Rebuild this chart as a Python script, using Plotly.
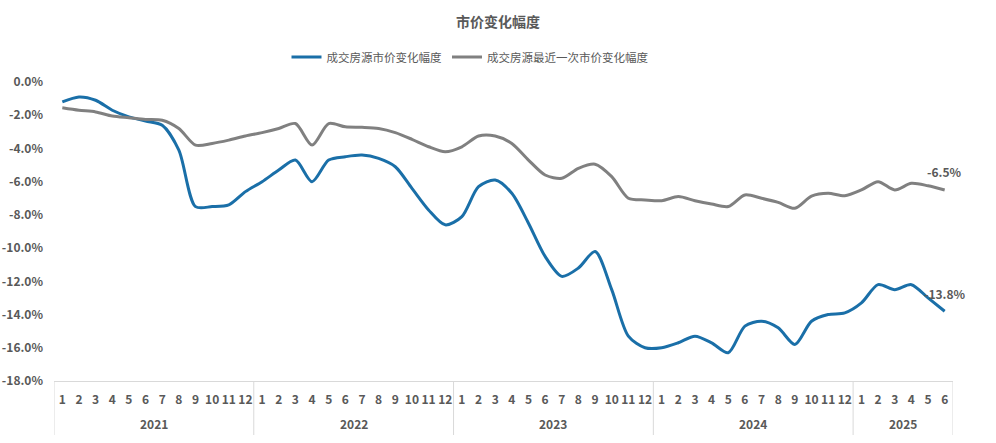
import plotly.graph_objects as go

years = ["2021"] * 12 + ["2022"] * 12 + ["2023"] * 12 + ["2024"] * 12 + ["2025"] * 6
months = [str(m) for m in range(1, 13)] * 4 + [str(m) for m in range(1, 7)]

series_a_name = "成交房源市价变化幅度"
series_a = [-1.2, -0.9, -1.1, -1.7, -2.1, -2.35, -2.6, -4.1, -7.5, -7.5, -7.4, -6.6,
            -6.0, -5.3, -4.7, -6.0, -4.7, -4.5, -4.4, -4.6, -5.1, -6.4, -7.7, -8.6,
            -8.1, -6.3, -5.9, -6.7, -8.5, -10.5, -11.7, -11.2, -10.2, -12.5, -15.3, -16.0,
            -16.0, -15.7, -15.3, -15.7, -16.3, -14.7, -14.4, -14.8, -15.8, -14.4, -14.0, -13.9,
            -13.3, -12.2, -12.5, -12.2, -13.0, -13.8]

series_b_name = "成交房源最近一次市价变化幅度"
series_b = [-1.55, -1.7, -1.8, -2.05, -2.15, -2.25, -2.3, -2.8, -3.8, -3.7, -3.5, -3.25,
            -3.05, -2.8, -2.5, -3.8, -2.5, -2.7, -2.73, -2.8, -3.05, -3.45, -3.9, -4.2,
            -3.9, -3.25, -3.25, -3.7, -4.7, -5.6, -5.8, -5.2, -4.95, -5.7, -7.0, -7.1,
            -7.15, -6.9, -7.15, -7.35, -7.5, -6.8, -7.0, -7.25, -7.6, -6.87, -6.7, -6.85,
            -6.5, -6.0, -6.5, -6.1, -6.25, -6.5]

y_tickvals = [0, -2, -4, -6, -8, -10, -12, -14, -16, -18]
y_ticktext = ["0.0%", "-2.0%", "-4.0%", "-6.0%", "-8.0%", "-10.0%", "-12.0%", "-14.0%", "-16.0%", "-18.0%"]

title_text = "市价变化幅度"

FONT = "Noto Sans CJK SC, Microsoft YaHei, sans-serif"
TXT = "#595959"
BLUE = "#1a6fa8"
GRAY = "#808080"
LINEC = "#d9d9d9"

W, H = 996, 443
n = len(months)
xi = list(range(n))

fig = go.Figure()
fig.add_trace(go.Scatter(
    x=xi, y=series_a, name=series_a_name,
    mode="lines", line=dict(color=BLUE, width=3, shape="spline", smoothing=0.8),
))
fig.add_trace(go.Scatter(
    x=xi, y=series_b, name=series_b_name,
    mode="lines", line=dict(color=GRAY, width=3, shape="spline", smoothing=0.8),
))

# end-point value labels
for vals in (series_a, series_b):
    fig.add_annotation(x=n - 1, y=vals[-1], xref="x", yref="y",
                       text=f"{vals[-1]:.1f}%", showarrow=False, yshift=18,
                       font=dict(family=FONT, size=12, color=TXT, weight="bold"))

# year groups: labels and divider lines
groups = []
for i, yv in enumerate(years):
    if not groups or groups[-1][0] != yv:
        groups.append([yv, i, i])
    else:
        groups[-1][2] = i
bounds = [groups[0][1] - 0.5] + [g[2] + 0.5 for g in groups]
for yv, a, b in groups:
    fig.add_annotation(x=(a + b) / 2, y=0, xref="x", yref="paper", yanchor="middle",
                       text=yv, showarrow=False, yshift=-42,
                       font=dict(family=FONT, size=12, color=TXT, weight="bold"))
for bx in bounds:
    fig.add_shape(type="line", xref="x", yref="paper", x0=bx, x1=bx, y0=0, y1=-54 / 299,
                  line=dict(color=LINEC, width=1))

fig.update_layout(
    width=W, height=H,
    margin=dict(l=54, r=43, t=82, b=62, autoexpand=False),
    paper_bgcolor="white", plot_bgcolor="white",
    font=dict(family=FONT, color=TXT),
    title=dict(text=title_text, xref="container", x=498 / W, xanchor="center",
               yref="container", y=1 - 22 / H, yanchor="middle",
               font=dict(family=FONT, size=14, color=TXT, weight="bold")),
    showlegend=True,
    legend=dict(orientation="h", xref="container", x=470 / W, xanchor="center",
                yref="container", y=1 - 57 / H, yanchor="middle",
                font=dict(family=FONT, size=11.5, color=TXT), itemwidth=30,
                traceorder="normal"),
    xaxis=dict(range=[-0.5, n - 0.5], tickvals=xi, ticktext=months, showgrid=False,
               zeroline=False, showline=True, linecolor=LINEC, linewidth=1,
               ticks="", tickangle=0, automargin=False, ticklabelstandoff=8,
               tickfont=dict(family=FONT, size=12, color=TXT, weight="bold")),
    yaxis=dict(range=[-18, 0], tickvals=y_tickvals, ticktext=y_ticktext,
               showgrid=False, zeroline=False, showline=False, ticks="",
               automargin=False, ticklabelstandoff=10,
               tickfont=dict(family=FONT, size=12, color=TXT, weight="bold")),
)

fig.write_html("out.html", post_script="document.body.style.margin='0';",
               config={"displayModeBar": False})
